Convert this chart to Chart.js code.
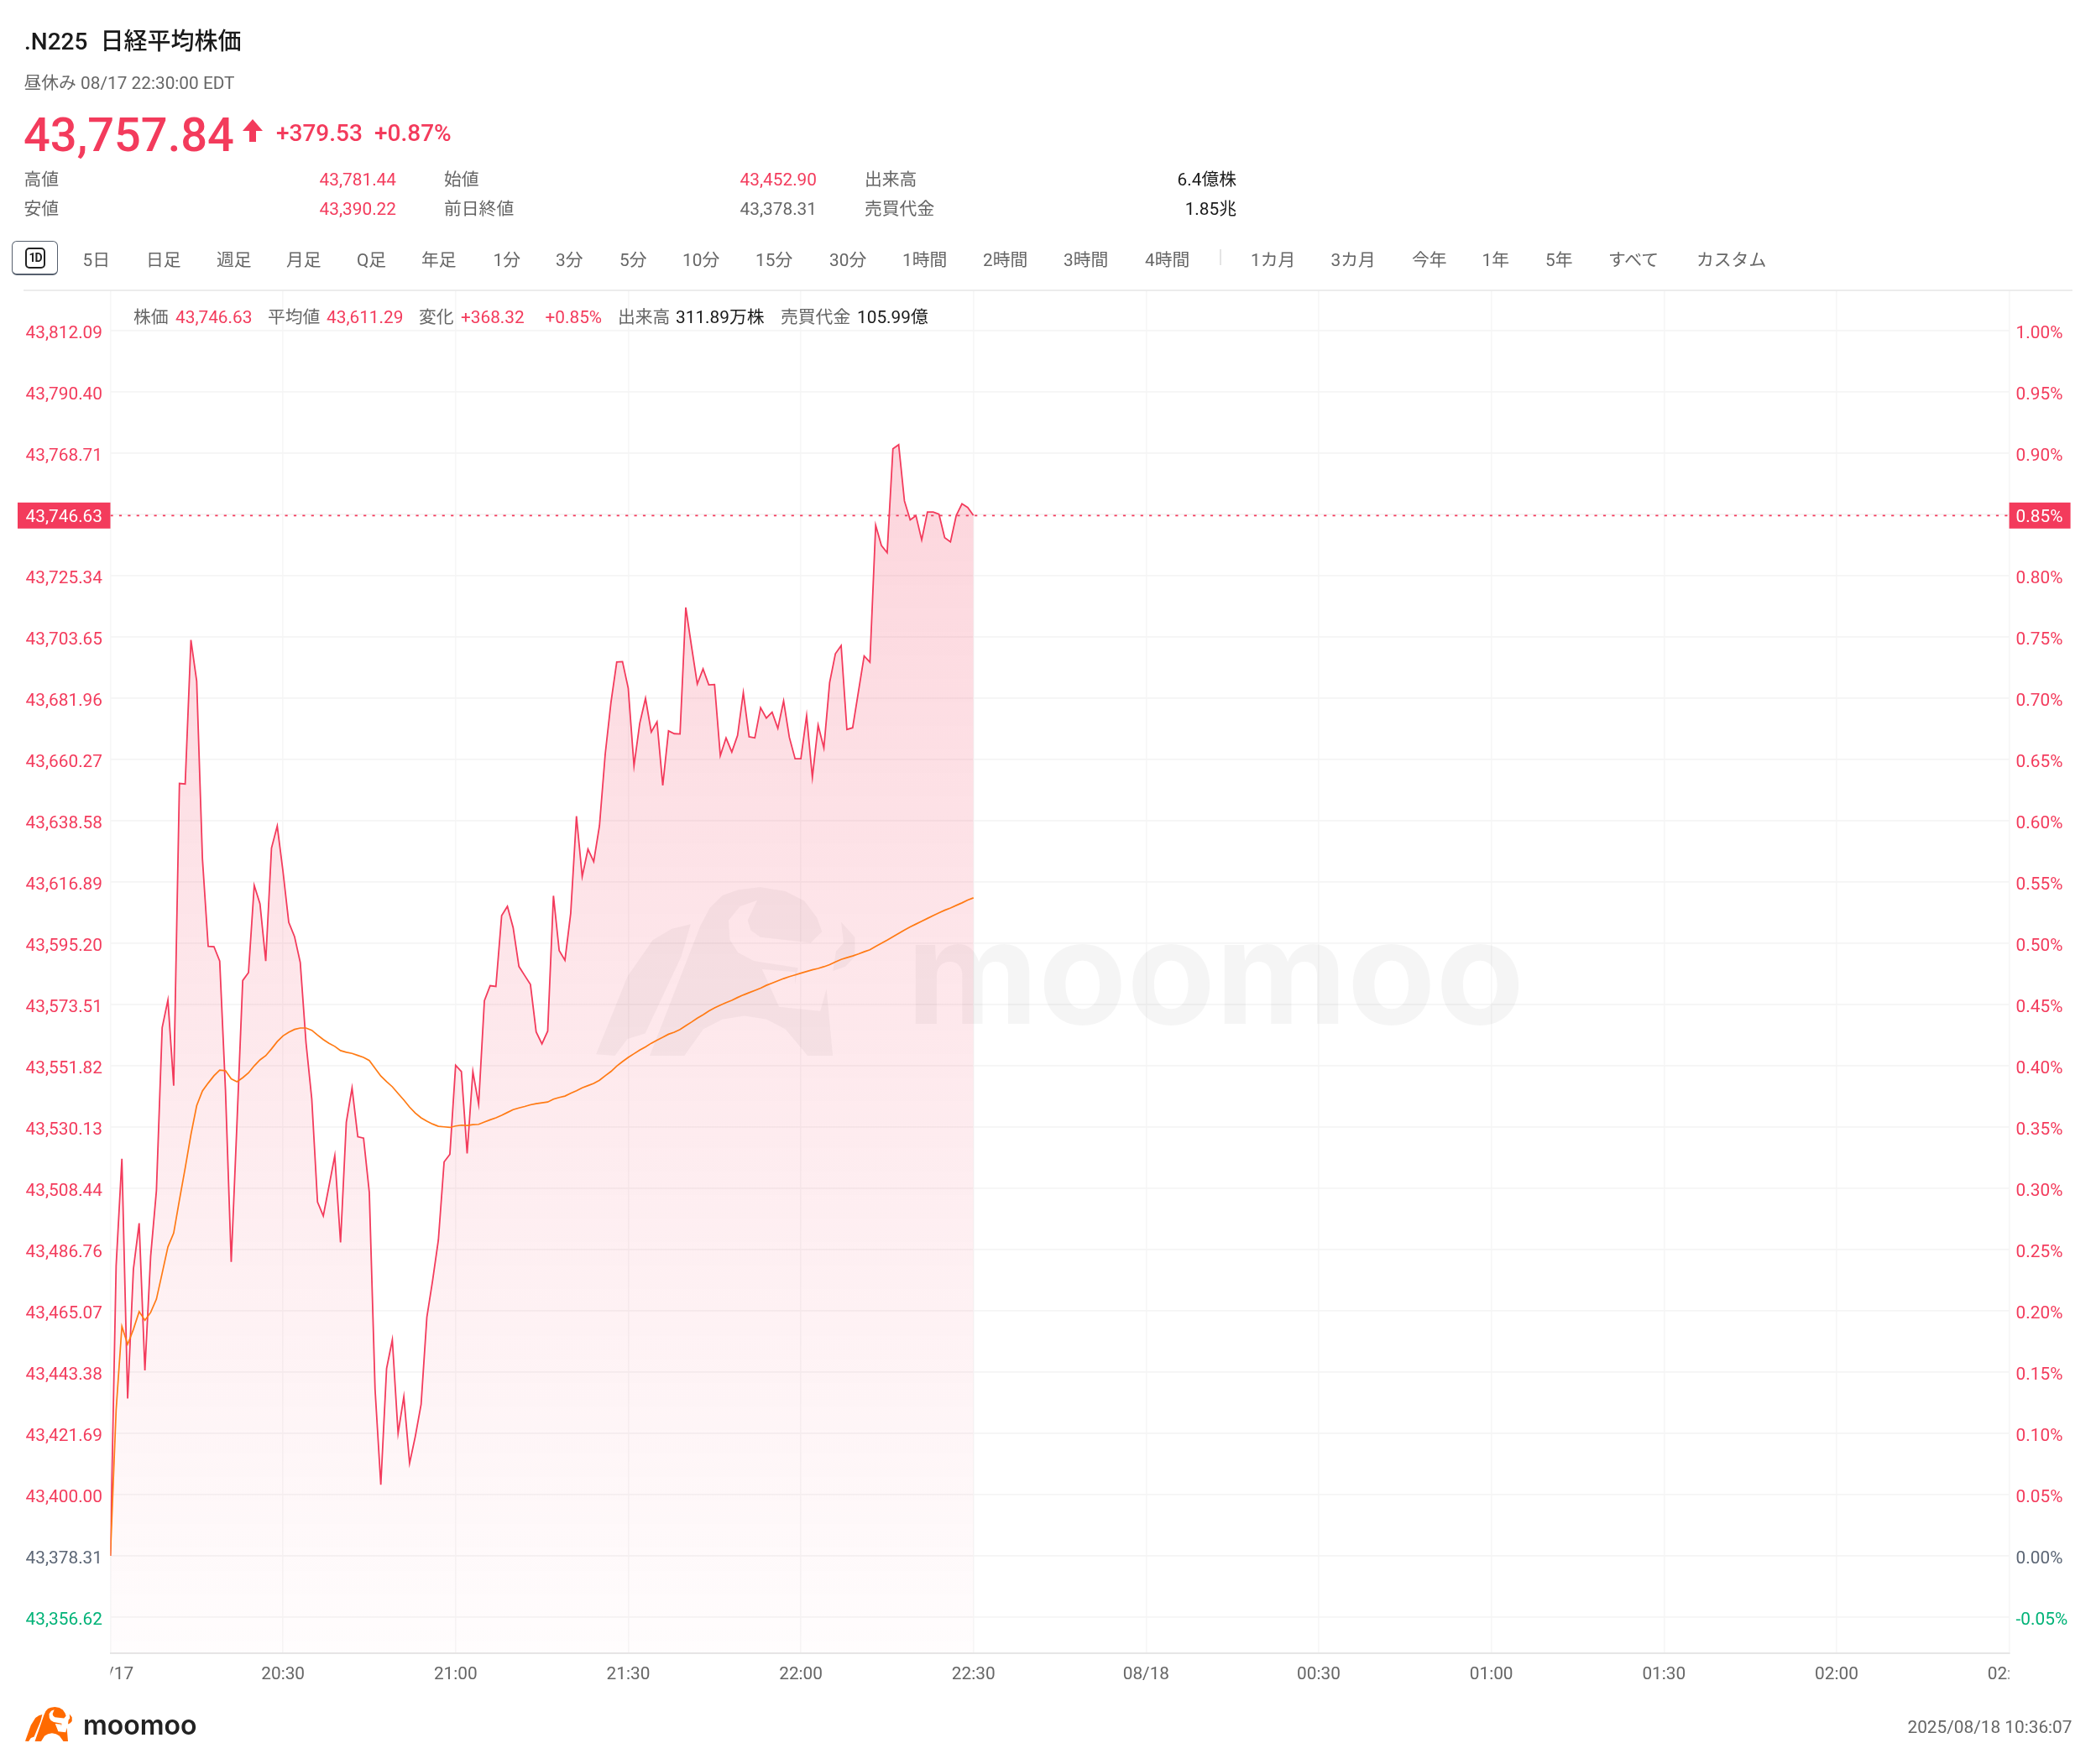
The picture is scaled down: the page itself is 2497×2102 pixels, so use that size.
<!DOCTYPE html>
<html lang="ja">
<head>
<meta charset="utf-8">
<title>.N225 日経平均株価</title>
<script src="https://cdn.jsdelivr.net/npm/chart.js@4"></script>
<style>
    html, body { margin: 0; padding: 0; background: #fff; }
    body { position: relative; width: 2497px; height: 2102px; overflow: hidden;
           font-family: Roboto, "Noto Sans CJK JP", sans-serif; color: #666; }
    canvas { position: absolute; left: 0; top: 0; }
    .t { position: absolute; white-space: nowrap; font-size: 20.8px; line-height: 1; transform: translateY(-50%); }
    .r { transform: translate(-100%, -50%); }
    .up { color: #f33b5c; }
    .dark { color: #1a1a1a; }
    #rule { position: absolute; left: 28px; top: 345px; width: 2441px; height: 2px; background: #ececec; }
    #sep { position: absolute; left: 1453px; top: 297px; width: 1.5px; height: 19px; background: #e4e4e4; }
    #btn { position: absolute; left: 14px; top: 287px; width: 55px; height: 41px; box-sizing: border-box;
           border: 1.6px solid #56606e; border-bottom-width: 2.4px; border-radius: 6px; }
    #btnIcon { position: absolute; left: 15px; top: 7px; width: 24px; height: 25px; box-sizing: border-box;
               border: 2px solid #222; border-radius: 5px; color: #222; font-size: 14px; font-weight: 700;
               line-height: 21px; text-align: center; letter-spacing: -1px; }
    #arrow { position: absolute; left: 289px; top: 142px; }
</style>
</head>
<body>
<canvas id="chart" width="2497" height="2102"></canvas>
<div id="rule"></div>
<div id="sep"></div>
<div id="btn"><div id="btnIcon">1D</div></div>
<svg id="arrow" width="24" height="27" viewBox="0 0 24 27"><polygon points="12,0 24,14 16,14 16,27 8,27 8,14 0,14" fill="#f33b5c"/></svg>
<script>
// Per-minute values, 20:00 to 22:30
const priceValues = [
    43378.31, 43481.1, 43518.9, 43434.0, 43479.8, 43496.1, 43444.0, 43484.4, 43507.6, 43565.3,
    43575.1, 43544.8, 43651.8, 43651.6, 43702.6, 43688.0, 43625.1, 43594.1, 43594.0, 43588.9,
    43543.4, 43482.4, 43531.5, 43582.0, 43584.8, 43615.7, 43609.2, 43588.9, 43628.9, 43636.7,
    43620.6, 43602.6, 43597.6, 43588.4, 43560.0, 43540.1, 43503.6, 43498.7, 43509.3, 43520.0,
    43489.3, 43531.8, 43544.0, 43526.7, 43526.2, 43507.0, 43437.3, 43403.5, 43444.6, 43454.8,
    43421.7, 43434.7, 43411.1, 43420.7, 43432.0, 43462.8, 43475.8, 43490.1, 43517.8, 43520.5,
    43552.0, 43549.8, 43520.8, 43549.8, 43538.2, 43574.9, 43580.2, 43579.9, 43605.0, 43608.3,
    43600.7, 43587.0, 43583.8, 43580.6, 43563.8, 43559.6, 43564.1, 43612.0, 43592.6, 43589.2,
    43605.8, 43640.2, 43618.8, 43628.5, 43624.1, 43636.8, 43662.2, 43680.5, 43694.8, 43694.9,
    43685.5, 43658.0, 43673.1, 43681.9, 43670.0, 43673.6, 43651.1, 43670.4, 43669.4, 43669.3,
    43714.1, 43700.3, 43687.0, 43692.3, 43686.7, 43686.8, 43661.6, 43667.9, 43662.9, 43668.8,
    43683.9, 43668.3, 43667.9, 43678.6, 43674.9, 43677.0, 43671.3, 43681.0, 43668.1, 43660.5,
    43660.5, 43675.8, 43653.9, 43672.4, 43664.3, 43687.5, 43697.7, 43700.6, 43670.9, 43671.5,
    43684.2, 43696.9, 43694.7, 43743.2, 43736.0, 43733.5, 43770.3, 43771.7, 43751.8, 43745.1,
    43746.6, 43738.0, 43747.9, 43747.9, 43747.1, 43738.8, 43737.3, 43746.6, 43750.8, 43749.5,
    43746.63
];
const averageValues = [
    43378.31, 43430.0, 43459.6, 43453.2, 43458.5, 43464.8, 43461.7, 43464.5, 43469.2, 43478.4,
    43487.7, 43492.6, 43504.3, 43515.6, 43527.5, 43537.7, 43542.9, 43545.7, 43548.3, 43550.3,
    43550.1, 43547.2, 43546.2, 43547.6, 43549.3, 43551.8, 43553.9, 43555.4, 43557.8, 43560.4,
    43562.4, 43563.7, 43564.7, 43565.2, 43565.2, 43564.4, 43562.7, 43561.1, 43559.8, 43558.7,
    43557.2, 43556.6, 43556.2, 43555.5, 43554.8, 43553.7, 43550.9, 43548.2, 43546.2, 43544.4,
    43542.0, 43539.7, 43537.2, 43535.1, 43533.4, 43532.2, 43531.2, 43530.4, 43530.2, 43530.0,
    43530.5, 43530.8, 43530.7, 43531.0, 43531.1, 43531.9, 43532.7, 43533.4, 43534.3, 43535.3,
    43536.3, 43536.9, 43537.4, 43538.0, 43538.4, 43538.7, 43539.0, 43540.0, 43540.6, 43541.1,
    43542.1, 43543.0, 43544.0, 43544.8, 43545.6, 43546.7, 43548.3, 43549.8, 43551.7, 43553.3,
    43554.8, 43556.1, 43557.4, 43558.5, 43559.8, 43560.9, 43561.9, 43563.0, 43563.7, 43564.7,
    43566.0, 43567.3, 43568.7, 43569.9, 43571.2, 43572.3, 43573.3, 43574.2, 43575.0, 43576.0,
    43576.9, 43577.7, 43578.5, 43579.3, 43580.3, 43581.1, 43581.9, 43582.7, 43583.4, 43584.0,
    43584.6, 43585.2, 43585.8, 43586.3, 43586.9, 43587.6, 43588.6, 43589.5, 43590.1, 43590.7,
    43591.4, 43592.2, 43592.9, 43594.1, 43595.2, 43596.3, 43597.5, 43598.7, 43599.9, 43601.0,
    43602.0, 43603.0, 43604.0, 43605.0, 43606.0, 43606.9, 43607.7, 43608.6, 43609.5, 43610.5,
    43611.29
];
const priceTicks = [
    43812.09, 43790.40, 43768.71, 43747.02, 43725.34, 43703.65, 43681.96, 43660.27, 43638.58, 43616.89, 43595.20,
    43573.51, 43551.82, 43530.13, 43508.44, 43486.76, 43465.07, 43443.38, 43421.69, 43400.00, 43378.31, 43356.62
];
const percentTicks = [
    1.00, 0.95, 0.90, 0.85, 0.80, 0.75, 0.70, 0.65, 0.60, 0.55, 0.50,
    0.45, 0.40, 0.35, 0.30, 0.25, 0.20, 0.15, 0.10, 0.05, 0.00, -0.05
];
const timeTicks = ['08/17', '20:30', '21:00', '21:30', '22:00', '22:30', '08/18', '00:30', '01:00', '01:30', '02:00', '02:30'];
const lastPrice = 43746.63;
const lastPercent = '0.85%';
const prevClose = 43378.31;
const priceMin = 43343.85;
const priceMax = 43826.05;
const pointsPerPercent = 433.78;

const RED = '#f33b5c';
const GREEN = '#00b277';
const GREY = '#666666';
const ZERO_GREY = '#5c6675';
const FONT = 'Roboto, "Noto Sans CJK JP", sans-serif';

// Header texts: text, x, y centre, size, weight, class
const headerTexts = [
    ['.N225', 29, 50, 28, 500, 'dark'], ['日経平均株価', 119.5, 50, 28, 500, 'dark'],
    ['昼休み 08/17 22:30:00 EDT', 28.5, 99, 20.8, 400, ''],
    ['43,757.84', 28, 160.5, 56, 500, 'up'], ['+379.53', 329, 159, 28, 500, 'up'], ['+0.87%', 446, 159, 28, 500, 'up'],
    ['高値', 28.5, 214, 20.8, 400, ''], ['安値', 28.5, 249, 20.8, 400, ''],
    ['始値', 529, 214, 20.8, 400, ''], ['前日終値', 529, 249, 20.8, 400, ''],
    ['出来高', 1030, 214, 20.8, 400, ''], ['売買代金', 1030, 249, 20.8, 400, '']
];
const statValues = [
    ['43,781.44', 472, 214, 'up'], ['43,390.22', 472, 249, 'up'],
    ['43,452.90', 973, 214, 'up'], ['43,378.31', 973, 249, ''],
    ['6.4億株', 1473, 214, 'dark'], ['1.85兆', 1473, 249, 'dark'],
    ['2025/08/18 10:36:07', 2468.5, 2057.5, '']
];
const toolbarLabels = ['5日', '日足', '週足', '月足', 'Q足', '年足', '1分', '3分', '5分', '10分', '15分', '30分', '1時間', '2時間', '3時間', '4時間', '1カ月', '3カ月', '今年', '1年', '5年', 'すべて', 'カスタム'];
const toolbarLefts = [98.5, 174, 258, 341, 425, 502, 587.5, 662, 738, 813, 900, 988, 1075, 1171, 1267, 1364, 1490, 1585.5, 1682, 1765.5, 1841, 1916, 2021];
const infoTexts = [
    ['株価', 159, ''], ['43,746.63', 209, 'up'], ['平均値', 319, ''], ['43,611.29', 389, 'up'],
    ['変化', 499, ''], ['+368.32', 549, 'up'], ['+0.85%', 649.5, 'up'], ['出来高', 736, ''],
    ['311.89万株', 805, 'dark'], ['売買代金', 930, ''], ['105.99億', 1021, 'dark']
];

// Put one absolutely positioned text on the page
function addText(text, x, y, size, weight, cls, right) {
    const el = document.createElement('span');
    el.className = 't ' + (cls || '') + (right ? ' r' : '');
    el.textContent = text;
    el.style.left = x + 'px';
    el.style.top = y + 'px';
    el.style.fontSize = size + 'px';
    el.style.fontWeight = weight;
    document.body.appendChild(el);
    return el;
}

headerTexts.forEach(h => addText(h[0], h[1], h[2], h[3], h[4], h[5]));
statValues.forEach(s => addText(s[0], s[1], s[2], 20.8, 400, s[3], true));
toolbarLabels.forEach((label, i) => addText(label, toolbarLefts[i], 310, 20.8, 400, ''));
infoTexts.forEach(t => addText(t[0], t[1], 378, 20.8, 400, t[2]));

// Bull logo outline, in its own drawing units
const logoBox = { x: 40, y: 80, w: 412, h: 605 };
const logoShapes = [
    [[40, 680], [65, 540], [90, 400], [130, 270], [160, 230], [190, 213], [175, 330], [118, 605], [90, 625], [70, 685]],
    [[125, 685], [180, 685], [210, 590], [240, 555], [275, 542], [310, 555], [340, 590], [375, 685], [415, 685], [405, 445],
     [395, 525], [330, 510], [303, 375], [355, 385], [355, 430], [360, 370], [290, 345], [265, 315], [252, 270], [250, 200],
     [268, 150], [295, 128], [280, 200], [285, 235], [300, 260], [380, 280], [398, 240], [390, 190], [370, 130], [340, 95],
     [300, 80], [265, 90], [240, 110], [220, 155], [205, 220]],
    [[428, 205], [450, 260], [450, 330], [435, 365], [415, 382], [420, 310], [432, 280]]
];

function drawLogo(ctx, x, y, w, h, color) {
    ctx.fillStyle = color;
    logoShapes.forEach(shape => {
        ctx.beginPath();
        shape.forEach((p, i) => {
            const px = x + (p[0] - logoBox.x) / logoBox.w * w;
            const py = y + (p[1] - logoBox.y) / logoBox.h * h;
            if (i === 0) ctx.moveTo(px, py); else ctx.lineTo(px, py);
        });
        ctx.closePath();
        ctx.fill();
    });
}

// Watermark goes under the series
const watermarkPlugin = {
    id: 'watermark',
    beforeDatasetsDraw(chart) {
        const ctx = chart.ctx;
        ctx.save();
        drawLogo(ctx, 710, 1057, 310, 201, 'rgba(0,0,0,0.04)');
        ctx.fillStyle = 'rgba(0,0,0,0.04)';
        ctx.font = '700 172px Inter, Roboto, sans-serif';
        ctx.textBaseline = 'alphabetic';
        ctx.fillText('moomoo', 1080, 1220);
        ctx.restore();
    }
};

// Last price tags, masks for the cut x labels, footer logo
const overlayPlugin = {
    id: 'overlay',
    afterDraw(chart) {
        const ctx = chart.ctx;
        const area = chart.chartArea;
        const y = chart.scales.y.getPixelForValue(lastPrice);
        ctx.save();
        ctx.fillStyle = '#fff';
        ctx.fillRect(0, area.bottom + 3, area.left, 40);
        ctx.fillRect(area.right, area.bottom + 3, chart.width - area.right, 40);

        ctx.fillStyle = RED;
        ctx.fillRect(21, y - 15.5, area.left - 21, 31);
        ctx.fillRect(area.right, y - 15.5, 73, 31);
        ctx.fillStyle = '#fff';
        ctx.font = '20.8px ' + FONT;
        ctx.textBaseline = 'middle';
        ctx.textAlign = 'right';
        ctx.fillText(lastPrice.toLocaleString('en-US', { minimumFractionDigits: 2 }), area.left - 9.5, y + 2.5);
        ctx.textAlign = 'left';
        ctx.fillText(lastPercent, area.right + 8, y + 2.5);

        drawLogo(ctx, 30, 2034, 56, 41, '#ff6a00');
        ctx.fillStyle = '#222';
        ctx.font = '600 32px Inter, Roboto, sans-serif';
        ctx.textBaseline = 'alphabetic';
        ctx.fillText('moomoo', 99, 2067);
        ctx.restore();
    }
};

function tickColor(value, zero) {
    if (Math.abs(value - zero) < 0.001) return ZERO_GREY;
    return value > zero ? RED : GREEN;
}

const toXY = values => values.map((y, i) => ({ x: i, y: y }));

new Chart(document.getElementById('chart').getContext('2d'), {
    type: 'line',
    data: {
        datasets: [
            {
                label: '平均値',
                data: toXY(averageValues),
                borderColor: '#ff7a14',
                borderWidth: 1.7,
                pointRadius: 0,
                tension: 0,
                fill: false
            },
            {
                label: '株価',
                data: toXY(priceValues),
                borderColor: RED,
                borderWidth: 1.8,
                pointRadius: 0,
                tension: 0,
                fill: 'start',
                backgroundColor(context) {
                    const area = context.chart.chartArea;
                    if (!area) return 'rgba(243,59,92,0.1)';
                    const g = context.chart.ctx.createLinearGradient(0, area.top, 0, area.bottom);
                    g.addColorStop(0, 'rgba(243,59,92,0.24)');
                    g.addColorStop(1, 'rgba(243,59,92,0.01)');
                    return g;
                }
            },
            {
                label: 'last',
                data: [{ x: 0, y: lastPrice }, { x: 330, y: lastPrice }],
                borderColor: RED,
                borderWidth: 1.8,
                borderDash: [3.2, 7.2],
                pointRadius: 0,
                fill: false
            }
        ]
    },
    options: {
        responsive: false,
        animation: false,
        devicePixelRatio: 1,
        layout: { autoPadding: false, padding: { top: 347 } },
        plugins: { legend: { display: false }, tooltip: { enabled: false } },
        scales: {
            x: {
                type: 'linear',
                min: 0,
                max: 330,
                afterFit(scale) { scale.height = 132; },
                ticks: {
                    stepSize: 30,
                    autoSkip: false,
                    maxRotation: 0,
                    padding: 13,
                    color: GREY,
                    font: { size: 20.8, family: FONT },
                    callback: value => timeTicks[value / 30]
                },
                grid: { color: '#f6f6f6', lineWidth: 1.6, drawTicks: false },
                border: { color: '#e6e6e6', width: 2 }
            },
            y: {
                position: 'left',
                min: priceMin,
                max: priceMax,
                afterFit(scale) { scale.width = 131.5; },
                afterBuildTicks(scale) { scale.ticks = priceTicks.map(v => ({ value: v })); },
                ticks: {
                    autoSkip: false,
                    padding: 9.5,
                    labelOffset: 3.5,
                    font: { size: 20.8, family: FONT },
                    color: ctx => tickColor(ctx.tick.value, prevClose),
                    callback: value => value === 43747.02 ? '' : value.toLocaleString('en-US', { minimumFractionDigits: 2, maximumFractionDigits: 2 })
                },
                grid: { color: '#f5f5f5', lineWidth: 1.8, drawTicks: false },
                border: { display: false }
            },
            y1: {
                position: 'right',
                min: (priceMin - prevClose) / pointsPerPercent,
                max: (priceMax - prevClose) / pointsPerPercent,
                afterFit(scale) { scale.width = 103.4; },
                afterBuildTicks(scale) { scale.ticks = percentTicks.map(v => ({ value: v })); },
                ticks: {
                    autoSkip: false,
                    padding: 8,
                    labelOffset: 3.5,
                    font: { size: 20.8, family: FONT },
                    color: ctx => tickColor(ctx.tick.value, 0),
                    callback: value => value === 0.85 ? '' : value.toFixed(2) + '%'
                },
                grid: { display: false, drawTicks: false },
                border: { display: false }
            }
        }
    },
    plugins: [watermarkPlugin, overlayPlugin]
});
</script>
</body>
</html>
